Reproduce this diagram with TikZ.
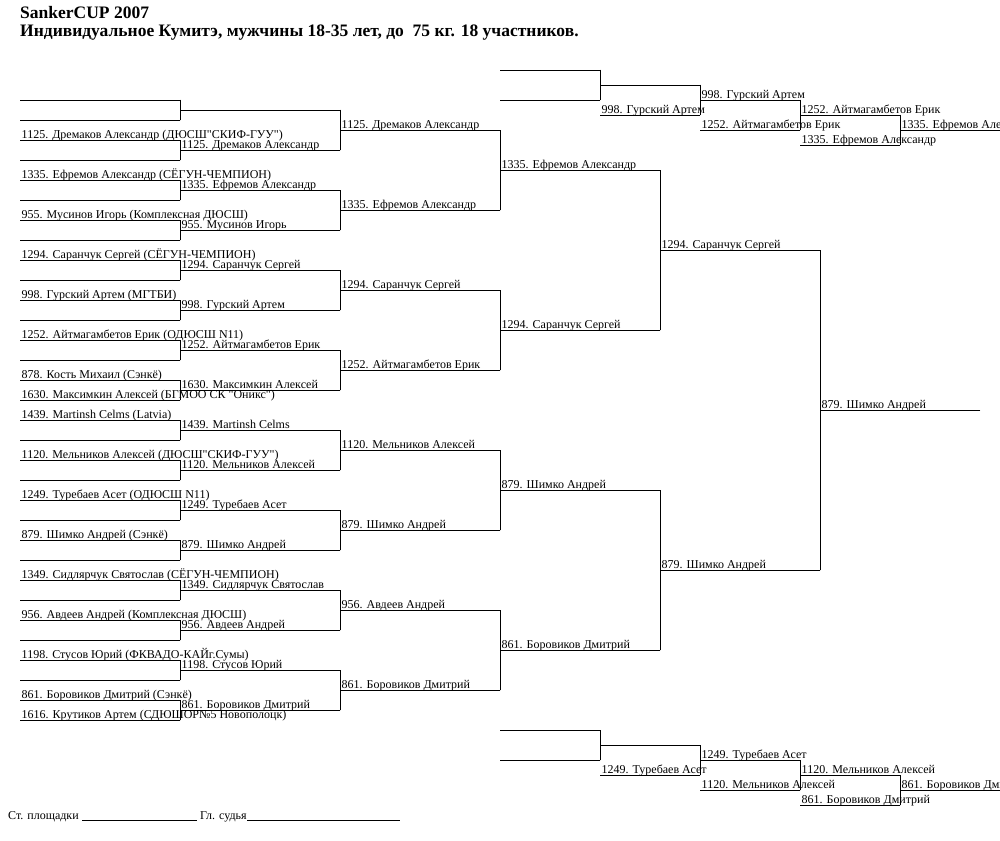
\documentclass[tikz,border=0pt]{standalone}
\usepackage{fontspec}
\setmainfont{Liberation Serif}[Ligatures=TeXOff]
\begin{document}
\begin{tikzpicture}[x=1pt,y=-1pt,
  bline/.style={line width=0.9pt,line cap=rect},
  lab/.style={anchor=base west,inner sep=0pt,xshift=1.5pt,yshift=1.5pt,font=\fontsize{12}{14}\selectfont},
  ttl/.style={anchor=base west,inner sep=0pt,font=\bfseries\fontsize{17.5}{20}\selectfont}]
\useasboundingbox (0,0) rectangle (1000,840);
\clip (0,0) rectangle (1000,840);
% title
\node[ttl] (title1) at (20,19) {SankerCUP 2007};
\node[ttl] (title2) at (20,37) {Индивидуальное Кумитэ, мужчины 18-35 лет, до\ \ 75 кг. 18 участников.};
% main bracket lines
\foreach \k/\xa/\xb/\yo/\d/\n in {1/20/180/100/20/31,2/180/340/110/40/15,3/340/500/130/80/7,4/500/660/170/160/3,5/660/820/250/320/1,6/820/980/410/0/0}{
  \foreach \i in {0,...,\n}{
    \draw[bline] (\xa,{\yo+\i*\d}) coordinate (L\k-\i-a) -- (\xb,{\yo+\i*\d}) coordinate (L\k-\i-b);
  }
}
% bracket verticals
\foreach \k/\n in {1/15,2/7,3/3,4/1,5/0}{
  \foreach \j in {0,...,\n}{
    \pgfmathtruncatemacro\ta{2*\j}
    \pgfmathtruncatemacro\tb{2*\j+1}
    \draw[bline] (L\k-\ta-b) -- (L\k-\tb-b);
  }
}
% labels
\foreach \k/\i/\t in {
 1/2/{1125. Дремаков Александр (ДЮСШ"СКИФ-ГУУ")},
 1/4/{1335. Ефремов Александр (СЁГУН-ЧЕМПИОН)},
 1/6/{955. Мусинов Игорь (Комплексная ДЮСШ)},
 1/8/{1294. Саранчук Сергей (СЁГУН-ЧЕМПИОН)},
 1/10/{998. Гурский Артем (МГТБИ)},
 1/12/{1252. Айтмагамбетов Ерик (ОДЮСШ N11)},
 1/14/{878. Кость Михаил (Сэнкё)},
 1/15/{1630. Максимкин Алексей (БГМОО СК "Оникс")},
 1/16/{1439. Martinsh Celms (Latvia)},
 1/18/{1120. Мельников Алексей (ДЮСШ"СКИФ-ГУУ")},
 1/20/{1249. Туребаев Асет (ОДЮСШ N11)},
 1/22/{879. Шимко Андрей (Сэнкё)},
 1/24/{1349. Сидлярчук Святослав (СЁГУН-ЧЕМПИОН)},
 1/26/{956. Авдеев Андрей (Комплексная ДЮСШ)},
 1/28/{1198. Стусов Юрий (ФКВАДО-КАЙг.Сумы)},
 1/30/{861. Боровиков Дмитрий (Сэнкё)},
 1/31/{1616. Крутиков Артем (СДЮШОР№5 Новополоцк)},
 2/1/{1125. Дремаков Александр},
 2/2/{1335. Ефремов Александр},
 2/3/{955. Мусинов Игорь},
 2/4/{1294. Саранчук Сергей},
 2/5/{998. Гурский Артем},
 2/6/{1252. Айтмагамбетов Ерик},
 2/7/{1630. Максимкин Алексей},
 2/8/{1439. Martinsh Celms},
 2/9/{1120. Мельников Алексей},
 2/10/{1249. Туребаев Асет},
 2/11/{879. Шимко Андрей},
 2/12/{1349. Сидлярчук Святослав},
 2/13/{956. Авдеев Андрей},
 2/14/{1198. Стусов Юрий},
 2/15/{861. Боровиков Дмитрий},
 3/0/{1125. Дремаков Александр},
 3/1/{1335. Ефремов Александр},
 3/2/{1294. Саранчук Сергей},
 3/3/{1252. Айтмагамбетов Ерик},
 3/4/{1120. Мельников Алексей},
 3/5/{879. Шимко Андрей},
 3/6/{956. Авдеев Андрей},
 3/7/{861. Боровиков Дмитрий},
 4/0/{1335. Ефремов Александр},
 4/1/{1294. Саранчук Сергей},
 4/2/{879. Шимко Андрей},
 4/3/{861. Боровиков Дмитрий},
 5/0/{1294. Саранчук Сергей},
 5/1/{879. Шимко Андрей},
 6/0/{879. Шимко Андрей}}{
  \node[lab] (t\k-\i) at (L\k-\i-a) {\t};
}
% repechage brackets
\foreach \base/\p in {70/T,730/B}{
  \foreach \s in {0,...,3}{
    \pgfmathsetmacro\xa{500+100*\s}
    \pgfmathsetmacro\xb{600+100*\s}
    \pgfmathsetmacro\yt{\base+15*\s}
    \pgfmathsetmacro\yb{\base+15*\s+30}
    \draw[bline] (\xa,\yt) coordinate (\p\s-ta) -- (\xb,\yt) coordinate (\p\s-tb);
    \draw[bline] (\xa,\yb) coordinate (\p\s-ba) -- (\xb,\yb) coordinate (\p\s-bb);
    \draw[bline] (\p\s-tb) -- (\p\s-bb);
  }
  \draw[bline] (900,\base+60) coordinate (\p F-a) -- (1000,\base+60) coordinate (\p F-b);
}
\node[lab] (rT1b) at (T1-ba) {998. Гурский Артем};
\node[lab] (rT2t) at (T2-ta) {998. Гурский Артем};
\node[lab] (rT2b) at (T2-ba) {1252. Айтмагамбетов Ерик};
\node[lab] (rT3t) at (T3-ta) {1252. Айтмагамбетов Ерик};
\node[lab] (rT3b) at (T3-ba) {1335. Ефремов Александр};
\node[lab] (rTF) at (TF-a) {1335. Ефремов Александр};
\node[lab] (rB1b) at (B1-ba) {1249. Туребаев Асет};
\node[lab] (rB2t) at (B2-ta) {1249. Туребаев Асет};
\node[lab] (rB2b) at (B2-ba) {1120. Мельников Алексей};
\node[lab] (rB3t) at (B3-ta) {1120. Мельников Алексей};
\node[lab] (rB3b) at (B3-ba) {861. Боровиков Дмитрий};
\node[lab] (rBF) at (BF-a) {861. Боровиков Дмитрий};
% footer
\node[lab,xshift=-1.5pt] (f1) at (8,820.5) {Ст. площадки};
\draw[line width=0.9pt] (82,820.5) coordinate (u1a) -- (197,820.5) coordinate (u1b);
\node[lab,xshift=-1.5pt] (f2) at (200,820.5) {Гл. судья};
\draw[line width=0.9pt] (247,820.5) coordinate (u2a) -- (400,820.5) coordinate (u2b);
\end{tikzpicture}
\end{document}
